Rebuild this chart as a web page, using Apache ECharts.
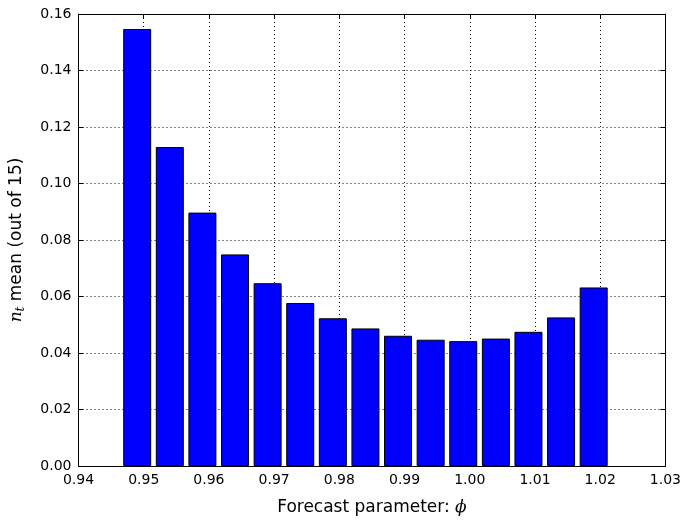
<!DOCTYPE html>
<html>
<head>
<meta charset="utf-8">
<script src="https://cdn.jsdelivr.net/npm/echarts@6/dist/echarts.min.js"></script>
<style>html,body{margin:0;padding:0;background:#fff}#c{width:684px;height:521px}</style>
</head>
<body>
<div id="c"></div>
<script>
// bar centres (forecast parameter phi) and mean n_t values
const phiCenters = [0.949, 0.954, 0.959, 0.964, 0.969, 0.974, 0.979, 0.984, 0.989, 0.994, 0.999, 1.004, 1.009, 1.014, 1.019];
const ntMean = [0.1547, 0.1129, 0.0897, 0.0749, 0.0647, 0.0577, 0.0523, 0.0487, 0.0461, 0.0447, 0.0442, 0.0451, 0.0475, 0.0526, 0.0632];
const xTicks = [0.94, 0.95, 0.96, 0.97, 0.98, 0.99, 1.00, 1.01, 1.02, 1.03];
const yTicks = [0.00, 0.02, 0.04, 0.06, 0.08, 0.10, 0.12, 0.14, 0.16];

const font = 'DejaVu Sans';
const chart = echarts.init(document.getElementById('c'));
const grid = {left: 76, right: 16, top: 14, bottom: 52};
const dotted = {show: true, lineStyle: {color: '#000', width: 1, type: [1, 3]}};
const baseX = {
  type: 'value', min: xTicks[0], max: xTicks[xTicks.length - 1], interval: 0.01,
  axisLine: {show: true, onZero: false, lineStyle: {color: '#000', width: 1}},
  axisTick: {show: true, inside: true, length: 5, lineStyle: {color: '#000'}},
  splitLine: {show: false}
};
const baseY = {
  type: 'value', min: yTicks[0], max: yTicks[yTicks.length - 1], interval: 0.02,
  axisLine: {show: true, onZero: false, lineStyle: {color: '#000', width: 1}},
  axisTick: {show: true, inside: true, length: 5, lineStyle: {color: '#000'}},
  splitLine: {show: false}
};
chart.setOption({
  animation: false,
  backgroundColor: '#fff',
  grid: grid,
  xAxis: [
    Object.assign({}, baseX, {
      position: 'bottom',
      splitLine: dotted,
      axisLabel: {color: '#000', fontFamily: font, fontSize: 14, margin: 7, formatter: v => v.toFixed(2)},
      name: '{t|Forecast parameter: }{p|ϕ}', nameLocation: 'middle', nameGap: 33,
      nameTextStyle: {rich: {
        t: {fontFamily: font, fontSize: 17, color: '#000'},
        p: {fontFamily: 'DejaVu Serif', fontStyle: 'italic', fontSize: 17, color: '#000'}
      }}
    }),
    Object.assign({}, baseX, {position: 'top', axisLabel: {show: false}})
  ],
  yAxis: [
    Object.assign({}, baseY, {
      position: 'left',
      splitLine: dotted,
      axisLabel: {color: '#000', fontFamily: font, fontSize: 14, margin: 7, formatter: v => v.toFixed(2)},
      name: '{n|n}{s|t}{t| mean (out of 15)}', nameLocation: 'middle', nameGap: 52,
      nameTextStyle: {rich: {
        n: {fontFamily: 'DejaVu Serif', fontStyle: 'italic', fontSize: 17, color: '#000'},
        s: {fontFamily: 'DejaVu Serif', fontStyle: 'italic', fontSize: 12, color: '#000', padding: [8, 0, 0, 0]},
        t: {fontFamily: font, fontSize: 17, color: '#000'}
      }}
    }),
    Object.assign({}, baseY, {position: 'right', axisLabel: {show: false}})
  ],
  series: [{
    type: 'bar',
    xAxisIndex: 0, yAxisIndex: 0,
    barWidth: 28,
    data: phiCenters.map((p, i) => [p, ntMean[i]]),
    itemStyle: {color: '#0000ff', borderColor: '#000', borderWidth: 1},
    z: 1
  }]
});
</script>
</body>
</html>
